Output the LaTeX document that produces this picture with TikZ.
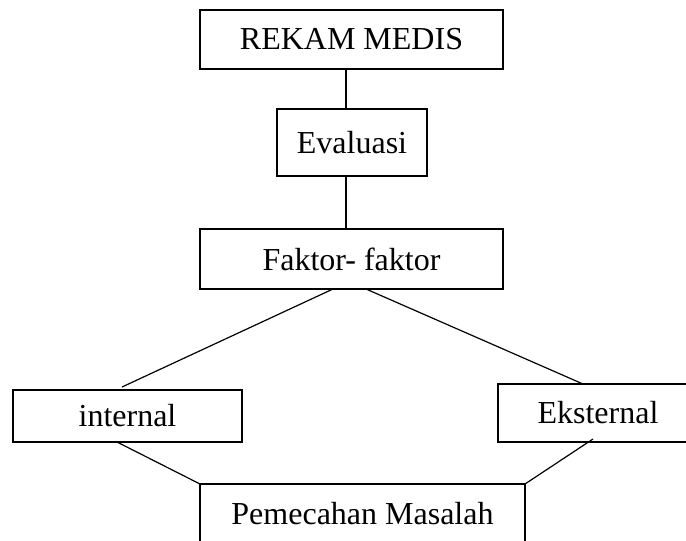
\documentclass[tikz,border=0pt]{standalone}
\usepackage{fontspec}
\setmainfont{Liberation Serif}
\usepackage{tikz}
\usetikzlibrary{calc}
\tikzset{
  every node/.style={
    align=center,
    font=\fontsize{24}{28}\selectfont,
  },
  kotak/.style={
    draw,
    line width=0.9pt,
    inner sep=0pt,
    outer sep=0pt,
  },
  garis/.style={
    line width=0.9pt,
  },
}

\begin{document}
\begin{tikzpicture}[x=0.75pt,y=-0.75pt]
  \useasboundingbox (0,0) rectangle (686,540);
  \clip (0,0) rectangle (686,540);
  % kotak-kotak
  \node[kotak,minimum width=227.25pt,minimum height=44.25pt] (rekam) at (351.5,39.5) {REKAM MEDIS};
  \node[kotak,minimum width=112.5pt,minimum height=50.25pt] (evaluasi) at (352,142.5) {Evaluasi};
  \node[kotak,minimum width=227.25pt,minimum height=45pt] (faktor) at (351.5,259) {Faktor- faktor};
  \node[kotak,minimum width=171.75pt,minimum height=39pt] (internal) at (127.5,416) {internal};
  \node[kotak,minimum width=150pt,minimum height=43.5pt] (eksternal) at (598,413) {Eksternal};
  \node[kotak,minimum width=243.75pt,minimum height=45pt] (pemecahan) at (362.5,514) {Pemecahan Masalah};
  % garis penghubung
  \draw[garis] ($(rekam.south)+(-5.5,0)$) -- ($(evaluasi.north)+(-6,0)$);
  \draw[garis] ($(evaluasi.south)+(-6,0)$) -- ($(faktor.north)+(-5.5,0)$);
  \draw[garis] ($(faktor.south)+(-18.5,0)$) -- ($(internal.north)+(-5.5,-3)$);
  \draw[garis] ($(faktor.south)+(14.5,0)$) -- ($(eksternal.north)+(-15,0)$);
  \draw[garis] ($(internal.south)+(-10.5,0)$) -- (pemecahan.north west);
  \draw[garis] ($(eksternal.south)+(-5,-3)$) -- (pemecahan.north east);
\end{tikzpicture}
\end{document}
